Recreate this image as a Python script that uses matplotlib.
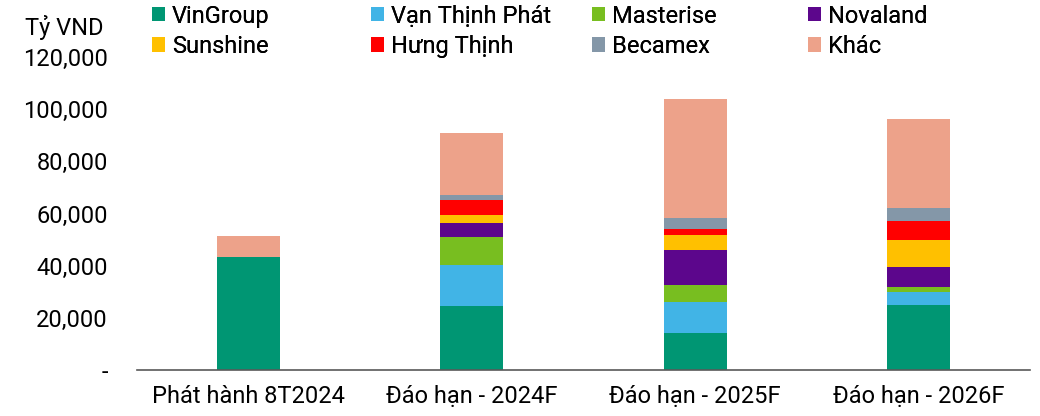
import matplotlib
matplotlib.use("Agg")
import matplotlib.pyplot as plt
import numpy as np
from matplotlib.patches import Patch

plt.rcParams['font.family'] = ['Roboto', 'DejaVu Sans']

categories = ["Phát hành 8T2024", "Đáo hạn - 2024F", "Đáo hạn - 2025F", "Đáo hạn - 2026F"]
series_names = ["VinGroup", "Vạn Thịnh Phát", "Masterise", "Novaland",
                "Sunshine", "Hưng Thịnh", "Becamex", "Khác"]
vingroup = [43500, 24700, 14200, 24900]
van_thinh_phat = [0, 15600, 11700, 5000]
masterise = [0, 10700, 6700, 2000]
novaland = [0, 5300, 13300, 7600]
sunshine = [0, 3000, 5800, 10400]
hung_thinh = [0, 5700, 2300, 7300]
becamex = [0, 2200, 4100, 4800]
khac = [8000, 23800, 45700, 34400]
colors = ["#009673", "#41B4E6", "#78BE20", "#5C068C",
          "#FFC000", "#FF0000", "#8497A8", "#EDA28A"]
yticks = [0, 20000, 40000, 60000, 80000, 100000, 120000]

data = [vingroup, van_thinh_phat, masterise, novaland, sunshine, hung_thinh, becamex, khac]

fig = plt.figure(figsize=(10.4, 4.16), dpi=100)
ax = fig.add_axes([137/1040, 46/416, 893/1040, 313/416])

x = np.arange(len(categories))
bottom = np.zeros(len(categories))
for vals, c in zip(data, colors):
    v = np.array(vals, dtype=float)
    ax.bar(x, v, width=0.283, bottom=bottom, color=c, edgecolor='none')
    bottom += v

ax.set_xlim(-0.5, 3.5)
ax.set_ylim(0, 120000)
ax.set_yticks(yticks)
ax.set_yticklabels(["-" if t == 0 else f"{t:,}" for t in yticks])
ax.set_xticks(x)
ax.set_xticklabels(categories)
ax.tick_params(axis='y', length=0, pad=21, labelsize=17, colors='#000000')
ax.tick_params(axis='x', length=0, pad=11, labelsize=17, colors='#000000')
for s in ['left', 'right', 'top']:
    ax.spines[s].set_visible(False)
ax.spines['bottom'].set_color('#595959')
ax.spines['bottom'].set_linewidth(1.2)

fig.text(25/1040, 1 - 27/416, "Tỷ VND", fontsize=17, ha='left', va='center')

col_x = [147/1040, 366/1040, 587/1040, 803/1040]
for i in range(4):
    handles = [Patch(facecolor=colors[i], edgecolor='none', label=series_names[i]),
               Patch(facecolor=colors[i + 4], edgecolor='none', label=series_names[i + 4])]
    leg = fig.legend(handles=handles, loc='upper left',
                     bbox_to_anchor=(col_x[i], 1 + 0/416), frameon=False,
                     fontsize=17, handlelength=0.55, handleheight=0.55,
                     handletextpad=0.3, labelspacing=0.3, borderpad=0.2,
                     borderaxespad=0)
    fig.add_artist(leg)

fig.savefig("out.png", dpi=100)
